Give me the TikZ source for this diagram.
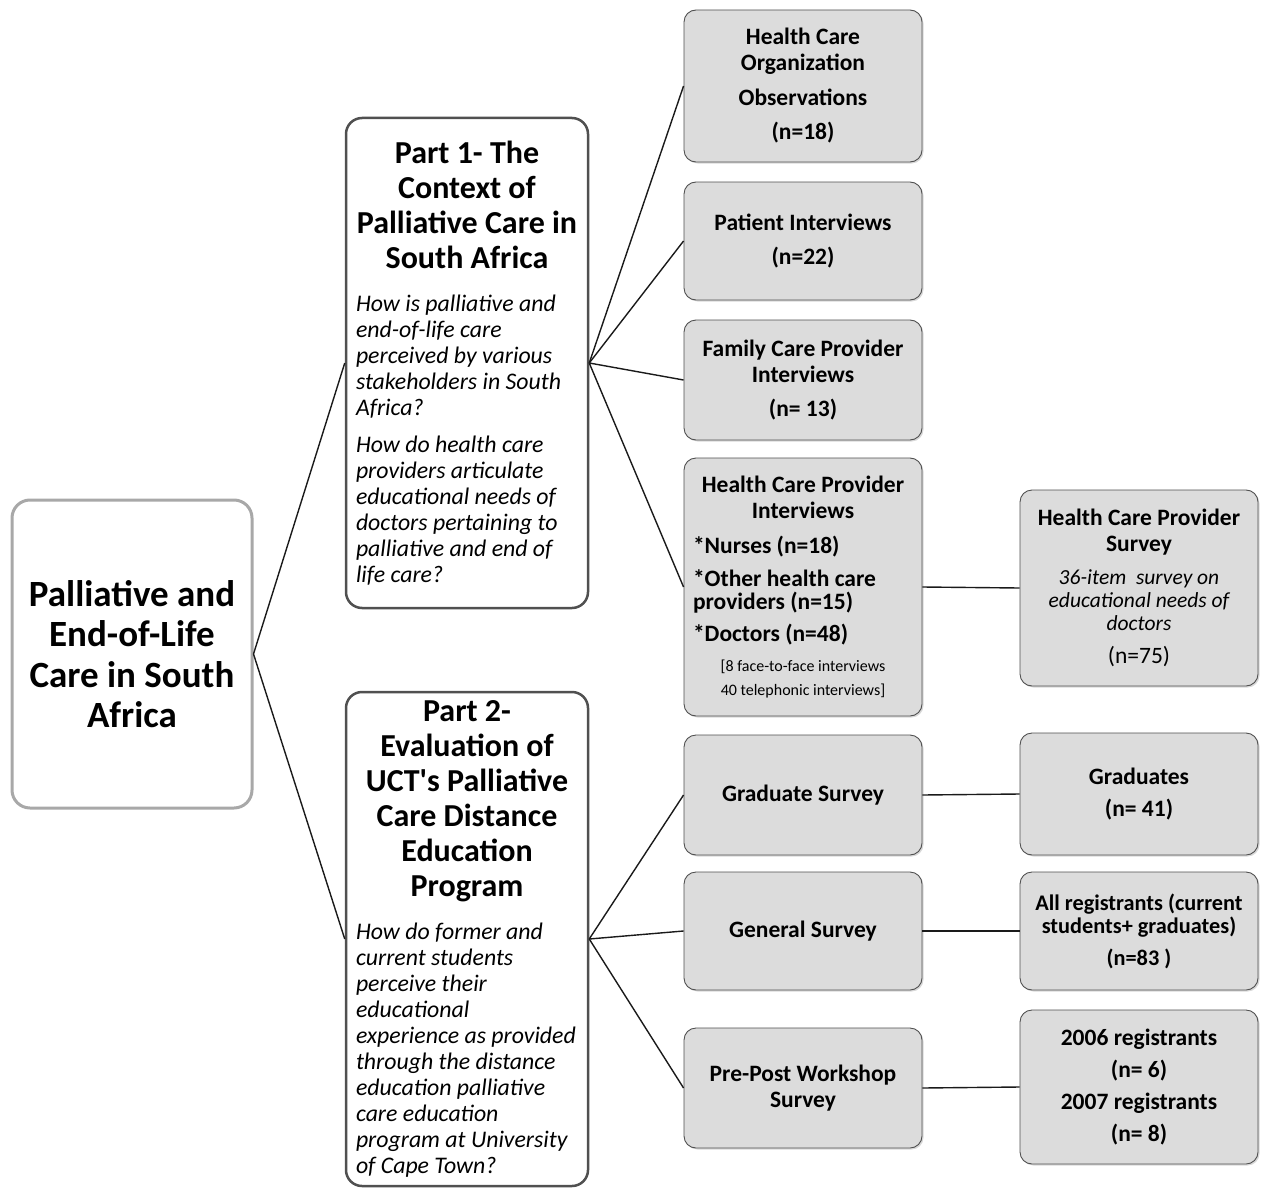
\documentclass[tikz,border=0pt]{standalone}
\usepackage{fontspec}
\setmainfont{Carlito}
\usetikzlibrary{shadows}
\definecolor{cline}{HTML}{1A1A1A}
\definecolor{cbox}{HTML}{DCDCDC}
\definecolor{cedge}{HTML}{505050}
\definecolor{croot}{HTML}{A8A8A8}
\begin{document}
\begin{tikzpicture}[x=1pt, y=-1pt,
  rbox/.style={draw=croot, line width=3pt, fill=white, rounded corners=18pt,
    minimum width=240pt, minimum height=308pt, align=flush center,
    font=\fontsize{37}{40.5}\selectfont\bfseries},
  part/.style={draw=cedge, line width=2.5pt, fill=white, rounded corners=16pt,
    minimum width=242pt, text width=222pt, inner xsep=10pt, inner ysep=3pt,
    align=flush left, font=\fontsize{23.8}{26}\selectfont\itshape},
  item/.style={draw=cedge, line width=0.9pt, fill=cbox, rounded corners=12pt,
    minimum width=238pt, text width=224pt, inner xsep=7pt, align=flush center,
    font=\fontsize{23.5}{26}\selectfont\bfseries,
    drop shadow={shadow xshift=1.5pt, shadow yshift=-1.5pt, fill=black!30}},
  conn/.style={cline, line width=1.4pt}]
\useasboundingbox (0,0) rectangle (1266,1188);

% ---- root and the two parts
\node[rbox] (root) at (132,654) {Palliative and\\ End-of-Life\\ Care in South\\ Africa};

\node[part, minimum height=490pt] (p1) at (467,363) {%
  {\centering\upshape\bfseries\fontsize{32}{35}\selectfont Part 1- The\\ Context of\\ Palliative Care in\\ South Africa\par}
  \vspace{17pt}How is palliative and\\ end-of-life care\\ perceived by various\\ stakeholders in South\\ Africa?\\[11pt]
  How do health care\\ providers articulate\\ educational needs of\\ doctors pertaining to\\ palliative and end of\\ life care?};

\node[part, minimum height=494pt] (p2) at (467,939) {%
  {\centering\upshape\bfseries\fontsize{32}{35}\selectfont Part 2-\\ Evaluation of\\ UCT\textquotesingle s Palliative\\ Care Distance\\ Education\\ Program\par}
  \vspace{17pt}How do former and\\ current students\\ perceive their\\ educational\\ experience as provided\\ through the distance\\ education palliative\\ care education\\ program at University\\ of Cape Town?};

% ---- part 1 methods (x = 803)
\node[item, minimum height=152pt] (org) at (803,86) {Health Care\\ Organization\\[9pt] Observations\\[8pt] (n=18)};
\node[item, minimum height=118pt] (pat) at (803,241) {Patient Interviews\\[8pt] (n=22)};
\node[item, minimum height=120pt] (fam) at (803,380) {Family Care Provider\\ Interviews\\[8pt] (n= 13)};
\node[item, minimum height=258pt, text width=220pt, inner xsep=9pt, align=flush left] (hcpi) at (803,587) {%
  {\centering Health Care Provider\\ Interviews\par}
  \vspace{9pt}*Nurses (n=18)\\[7pt] *Other health care\\[-3pt] providers (n=15)\\[6pt] *Doctors (n=48)\par
  {\centering\mdseries\fontsize{16}{24}\selectfont\vspace{6pt}[8 face-to-face interviews\\ 40 telephonic interviews]\par}};

% ---- part 2 methods
\node[item, minimum height=120pt] (grad) at (803,795) {Graduate Survey};
\node[item, minimum height=118pt] (gen) at (803,931) {General Survey\\[14pt]};
\node[item, minimum height=120pt] (pre) at (803,1088) {Pre-Post Workshop\\ Survey};

% ---- samples (x = 1139)
\node[item, minimum height=196pt] (hcps) at (1139,588) {Health Care Provider\\ Survey\\[7pt]
  {\mdseries\itshape\fontsize{21.5}{26}\selectfont 36-item\ \ survey on\\[-3pt] educational needs of\\[-3pt] doctors}\\[7pt] {\mdseries (n=75)}};
\node[item, minimum height=122pt] (grads) at (1139,794) {Graduates\\[6pt] (n= 41)};
\node[item, minimum height=118pt, font=\fontsize{22.3}{26}\selectfont\bfseries] (allreg) at (1139,931)
  {All registrants (current\\[-3pt] students+ graduates)\\[6pt] (n=83 )};
\node[item, minimum height=154pt] (reg) at (1139,1087) {2006 registrants\\[6pt] (n= 6)\\[6pt] 2007 registrants\\[6pt] (n= 8)};

\draw[conn] (root.east) -- (p1.west);
\draw[conn] (root.east) -- (p2.west);
\draw[conn] (p1.east) -- (org.west); \draw[conn] (p1.east) -- (pat.west);
\draw[conn] (p1.east) -- (fam.west); \draw[conn] (p1.east) -- (hcpi.west);
\draw[conn] (p2.east) -- (grad.west); \draw[conn] (p2.east) -- (gen.west);
\draw[conn] (p2.east) -- (pre.west);
\draw[conn] (hcpi.east) -- (hcps.west);
\draw[conn] (grad.east) -- (grads.west);
\draw[conn] (gen.east) -- (allreg.west);
\draw[conn] (pre.east) -- (reg.west);
\end{tikzpicture}
\end{document}
